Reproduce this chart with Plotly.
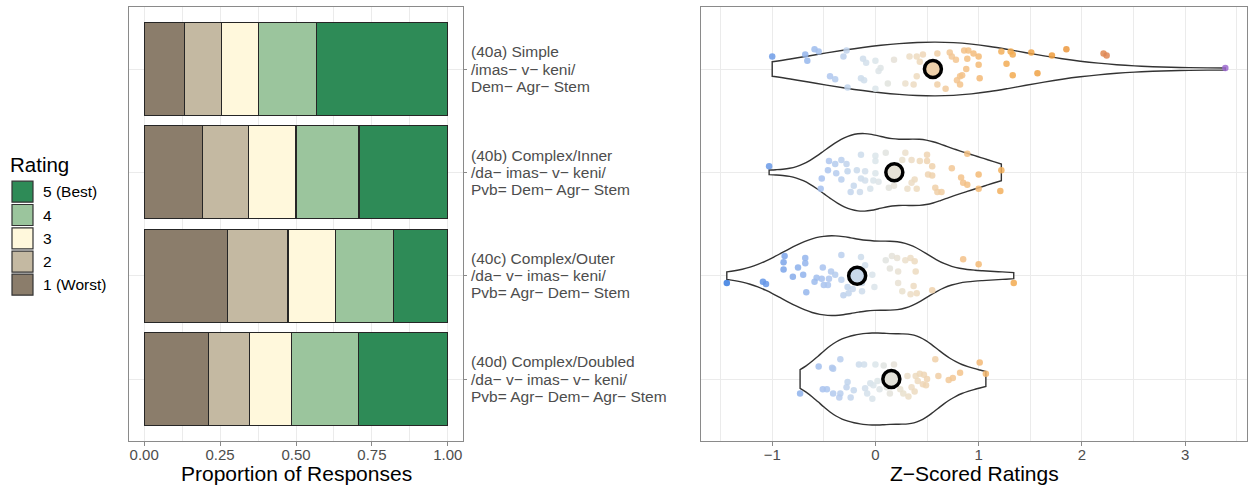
import numpy as np
import plotly.graph_objects as go

# ---------------- data ----------------
conditions = [
    ["(40a) Simple", "/imas− v− keni/", "Dem− Agr− Stem"],
    ["(40b) Complex/Inner", "/da− imas− v− keni/", "Pvb= Dem− Agr− Stem"],
    ["(40c) Complex/Outer", "/da− v− imas− keni/", "Pvb= Agr− Dem− Stem"],
    ["(40d) Complex/Doubled", "/da− v− imas− v− keni/", "Pvb= Agr− Dem− Agr− Stem"],
]
rating_labels = ["1 (Worst)", "2", "3", "4", "5 (Best)"]
x_ticks_left = [0, 0.25, 0.5, 0.75, 1.0]
x_ticktext_left = ["0.00", "0.25", "0.50", "0.75", "1.00"]
x_ticks_right = [-1, 0, 1, 2, 3]
x_ticktext_right = ["−1", "0", "1", "2", "3"]

# proportion of responses per rating (cols: 40a..40d)
prop_r1 = [0.132, 0.193, 0.274, 0.211]
prop_r2 = [0.122, 0.151, 0.200, 0.135]
prop_r3 = [0.122, 0.156, 0.157, 0.139]
prop_r4 = [0.192, 0.207, 0.191, 0.220]
prop_r5 = [0.432, 0.293, 0.178, 0.295]

# z-scored ratings (per participant) and vertical jitter
z_40a = [-1.00, -0.68, -0.66, -0.59, -0.55, -0.28, -0.31, -0.44, -0.39, -0.27,
         -0.14, -0.11, -0.12, -0.09, 0.00, 0.05, 0.03, 0.00, 0.18, 0.12,
         0.29, 0.33, 0.40, 0.46, 0.43, 0.40, 0.37, 0.60, 0.60, 0.68,
         0.72, 0.74, 0.78, 0.86, 0.90, 0.95, 1.00, 0.89, 0.88, 1.00,
         0.82, 0.84, 0.79, 0.82, 1.01, 1.22, 1.31, 1.33, 1.27, 1.33,
         1.51, 1.57, 1.71, 1.85, 2.21, 2.24, 3.39]
j_40a = [0.12, 0.14, 0.08, 0.19, 0.17, 0.18, 0.12, -0.07, -0.10, -0.18,
         -0.09, -0.11, 0.10, 0.06, 0.08, 0.01, -0.02, -0.19, 0.09, -0.14,
         -0.14, 0.12, 0.12, 0.14, 0.07, -0.07, -0.15, 0.15, -0.15, -0.19,
         0.16, 0.12, 0.09, 0.18, 0.18, 0.15, 0.12, 0.10, 0.00, 0.04,
         -0.07, -0.06, -0.11, -0.15, -0.09, 0.17, 0.17, 0.14, 0.05, -0.06,
         0.16, -0.04, 0.13, 0.19, 0.15, 0.13, 0.01]

z_40b = [-1.03, -0.52, -0.53, -0.45, -0.46, -0.39, -0.33, -0.38, -0.33, -0.28,
         -0.27, -0.14, -0.18, -0.10, -0.14, -0.10, -0.21, -0.24, -0.15, -0.05,
         0.00, 0.00, 0.00, -0.02, 0.03, 0.10, 0.13, 0.18, 0.29, 0.26,
         0.35, 0.43, 0.50, 0.50, 0.55, 0.51, 0.55, 0.38, 0.35, 0.31,
         0.40, 0.58, 0.60, 0.64, 0.74, 0.89, 0.83, 0.85, 0.89, 1.00,
         1.00, 1.22, 1.21]
j_40b = [0.06, -0.06, -0.16, 0.11, 0.02, 0.08, 0.12, -0.01, -0.07, 0.08,
         0.01, 0.17, 0.02, 0.01, -0.06, -0.08, -0.13, -0.19, -0.19, -0.16,
         0.16, 0.11, -0.01, -0.08, -0.09, 0.19, -0.15, -0.13, 0.19, 0.12,
         0.12, 0.11, 0.17, 0.11, 0.06, -0.02, -0.03, -0.07, -0.10, -0.16,
         -0.16, -0.15, -0.19, -0.19, 0.04, 0.18, -0.05, -0.10, -0.12, -0.02,
         -0.16, 0.02, -0.18]

z_40c = [-1.44, -1.09, -1.06, -0.88, -0.89, -0.89, -0.68, -0.68, -0.75, -0.80,
         -0.70, -0.67, -0.51, -0.57, -0.59, -0.52, -0.50, -0.45, -0.43, -0.39,
         -0.46, -0.33, -0.33, -0.31, -0.26, -0.22, -0.27, -0.14, -0.10, -0.03,
         -0.13, -0.13, -0.01, 0.10, 0.16, 0.21, 0.14, 0.29, 0.34, 0.38,
         0.22, 0.39, 0.22, 0.37, 0.26, 0.34, 0.40, 0.55, 0.85, 1.00,
         1.34]
j_40c = [-0.07, -0.06, -0.08, 0.19, 0.13, 0.06, 0.17, 0.12, 0.08, -0.01,
         0.01, -0.16, 0.08, -0.02, -0.06, -0.03, -0.09, -0.03, 0.04, 0.01,
         -0.09, 0.20, -0.04, -0.19, -0.17, -0.13, -0.11, 0.18, 0.10, 0.01,
         -0.07, -0.15, -0.11, 0.15, 0.19, 0.17, 0.07, 0.15, 0.17, 0.14,
         0.04, 0.04, -0.07, -0.10, -0.15, -0.18, -0.17, -0.14, 0.16, 0.11,
         -0.07]

z_40d = [-0.73, -0.55, -0.42, -0.41, -0.34, -0.51, -0.47, -0.41, -0.34, -0.35,
         -0.28, -0.27, -0.24, -0.21, -0.16, -0.11, -0.10, -0.08, -0.05, -0.02,
         -0.03, 0.00, 0.02, 0.04, 0.08, 0.11, 0.18, 0.19, 0.14, 0.31,
         0.24, 0.27, 0.35, 0.32, 0.39, 0.43, 0.47, 0.41, 0.46, 0.49,
         0.38, 0.50, 0.58, 0.61, 0.71, 0.75, 0.82, 1.01, 1.07]
j_40d = [-0.14, 0.12, 0.11, 0.10, 0.19, -0.10, -0.10, -0.14, -0.14, -0.18,
         -0.08, -0.03, -0.18, -0.11, 0.14, 0.14, -0.09, -0.14, -0.04, -0.06,
         -0.19, 0.14, -0.02, -0.10, 0.13, -0.08, 0.14, -0.03, -0.14, 0.03,
         -0.10, -0.14, -0.08, -0.17, 0.03, 0.05, 0.04, -0.02, -0.05, -0.06,
         -0.12, 0.00, 0.19, 0.03, -0.01, 0.01, 0.06, 0.16, 0.05]

mean_z = [0.557, 0.183, -0.177, 0.154]

# ---------------- styling ----------------
FONT = "Liberation Sans, Arial, Helvetica, sans-serif"
rating_colors = ["#8b7d6b", "#c4b9a2", "#fff8dc", "#9bc59d", "#2e8b57"]
positions = [4, 3, 2, 1]          # 40a at top
violin_widths = [0.52, 0.75, 0.77, 0.89]
bw_adjust = [1.8, 1.0, 1.0, 1.0]
zscale = [
    [0.000, "#2f76df"], [0.102, "#6e9ce8"], [0.204, "#a9c3ee"],
    [0.306, "#dbe5ea"], [0.367, "#ebdfca"], [0.469, "#f3c48e"],
    [0.571, "#f2ab52"], [0.673, "#ee9a3a"], [0.755, "#e0874f"],
    [1.000, "#9b6ad0"],
]
CMIN, CMAX = -1.5, 3.4
GRID = "#ebebeb"
BORDER = "#8a8a8a"
TICKCOL = "#4d4d4d"
W, H = 1250, 486
LINE_STEP = 0.166   # category-label line spacing in y units


def px_x(p):
    return p / W


def px_y(p):
    return 1 - p / H


def nrd0(v):
    v = np.asarray(v, dtype=float)
    sd = v.std(ddof=1)
    q75, q25 = np.percentile(v, [75, 25])
    lo = min(sd, (q75 - q25) / 1.34)
    return 0.9 * lo * len(v) ** -0.2


fig = go.Figure()

# ---- left panel: stacked proportions ----
props = [prop_r1, prop_r2, prop_r3, prop_r4, prop_r5]
for lab, col, vals in zip(rating_labels, rating_colors, props):
    fig.add_trace(go.Bar(
        x=vals, y=positions, orientation="h", width=0.9, name=lab,
        marker=dict(color=col, line=dict(color="#262626", width=1.3)),
        xaxis="x", yaxis="y", showlegend=False, hoverinfo="skip",
    ))

# ---- right panel: violins ----
zs = [z_40a, z_40b, z_40c, z_40d]
js = [j_40a, j_40b, j_40c, j_40d]
for i, (z, pos, w, adj) in enumerate(zip(zs, positions, violin_widths, bw_adjust)):
    fig.add_trace(go.Violin(
        x=z, y0=pos, orientation="h", width=w, spanmode="hard",
        bandwidth=nrd0(z) * adj, points=False, scalegroup=f"g{i}",
        scalemode="width", fillcolor="white",
        line=dict(color="#333333", width=1.4),
        box=dict(visible=False), meanline=dict(visible=False),
        xaxis="x2", yaxis="y2", showlegend=False, hoverinfo="skip",
    ))

all_z, all_y = [], []
for z, j, pos in zip(zs, js, positions):
    all_z += list(z)
    all_y += [pos + jj for jj in j]
fig.add_trace(go.Scatter(
    x=all_z, y=all_y, mode="markers", xaxis="x2", yaxis="y2",
    marker=dict(size=6.5, color=all_z, colorscale=zscale, cmin=CMIN, cmax=CMAX,
                opacity=0.85, line=dict(width=0)),
    showlegend=False, hoverinfo="skip",
))
fig.add_trace(go.Scatter(
    x=mean_z, y=positions, mode="markers", xaxis="x2", yaxis="y2",
    marker=dict(size=17, color=mean_z, colorscale=zscale, cmin=CMIN, cmax=CMAX,
                line=dict(color="black", width=3.5)),
    showlegend=False, hoverinfo="skip",
))

ydom = [px_y(441), px_y(7)]
axis_common = dict(showline=True, mirror=True, linecolor=BORDER, linewidth=1,
                   zeroline=False, gridcolor=GRID, gridwidth=1, automargin=False)

fig.update_layout(
    width=W, height=H, margin=dict(l=0, r=0, t=0, b=0, autoexpand=False),
    paper_bgcolor="white", plot_bgcolor="white",
    font=dict(family=FONT, color="black"),
    barmode="stack", violinmode="overlay", showlegend=False,
    xaxis=dict(
        domain=[px_x(129), px_x(463)], range=[-0.05, 1.05], anchor="y",
        tickvals=x_ticks_left, ticktext=x_ticktext_left,
        ticks="outside", ticklen=4, tickcolor=BORDER, ticklabelstandoff=-4,
        tickfont=dict(size=15, color=TICKCOL),
        minor=dict(showgrid=True, gridcolor=GRID, gridwidth=0.6,
                   tickvals=[0.125, 0.375, 0.625, 0.875]),
        **axis_common,
    ),
    yaxis=dict(
        domain=ydom, range=[0.4, 4.6], anchor="x", side="right",
        tickvals=positions, showticklabels=False,
        ticks="outside", ticklen=3, tickcolor=BORDER,
        **axis_common,
    ),
    xaxis2=dict(
        domain=[px_x(701), px_x(1247)], range=[-1.69, 3.6], anchor="y2",
        tickvals=x_ticks_right, ticktext=x_ticktext_right,
        ticks="outside", ticklen=4, tickcolor=BORDER, ticklabelstandoff=-4,
        tickfont=dict(size=15, color=TICKCOL),
        minor=dict(showgrid=True, gridcolor=GRID, gridwidth=0.6,
                   tickvals=[-1.5, -0.5, 0.5, 1.5, 2.5, 3.5]),
        **axis_common,
    ),
    yaxis2=dict(
        domain=ydom, range=[0.4, 4.6], anchor="x2",
        tickvals=positions, showticklabels=False, ticks="",
        **axis_common,
    ),
)

# ---- category labels (right of left panel), one annotation per line ----
for lines, pos in zip(conditions, positions):
    for k, txt in enumerate(lines):
        fig.add_annotation(xref="paper", yref="y", x=px_x(469), y=pos + (1 - k) * LINE_STEP,
                           text=txt, showarrow=False, xanchor="left", yanchor="middle",
                           font=dict(size=15.5, color=TICKCOL))

# ---- axis titles (anchored to the bottom edge so they are not clipped) ----
fig.add_annotation(xref="paper", yref="paper", x=px_x(296), y=0,
                   text="Proportion of Responses", showarrow=False, borderpad=0,
                   xanchor="center", yanchor="bottom", font=dict(size=21, color="black"))
fig.add_annotation(xref="paper", yref="paper", x=px_x(974), y=0,
                   text="Z−Scored Ratings", showarrow=False, borderpad=0,
                   xanchor="center", yanchor="bottom", font=dict(size=21, color="black"))

# ---- manual legend (large square keys like the reference) ----
key_centers = [191.7, 215.0, 238.3, 261.7, 284.7]
legend_order = list(range(len(rating_labels)))[::-1]   # 5 (Best) at top
for yc, idx in zip(key_centers, legend_order):
    fig.add_shape(type="rect", xref="paper", yref="paper",
                  x0=px_x(12), x1=px_x(33), y0=px_y(yc + 10.5), y1=px_y(yc - 10.5),
                  fillcolor=rating_colors[idx], line=dict(color="#333333", width=1.2))
    fig.add_annotation(xref="paper", yref="paper", x=px_x(41), y=px_y(yc),
                       text=rating_labels[idx], showarrow=False,
                       xanchor="left", yanchor="middle",
                       font=dict(size=15.5, color="black"))
fig.add_annotation(xref="paper", yref="paper", x=px_x(8), y=px_y(164),
                   text="Rating", showarrow=False, xanchor="left", yanchor="middle",
                   font=dict(size=20.5, color="black"))

# remove the page's default body margin so the 1250x486 figure fills the window exactly
fig.write_html(
    "out.html",
    config={"displayModeBar": False},
    post_script="document.body.style.margin='0';document.body.style.overflow='hidden';",
)
